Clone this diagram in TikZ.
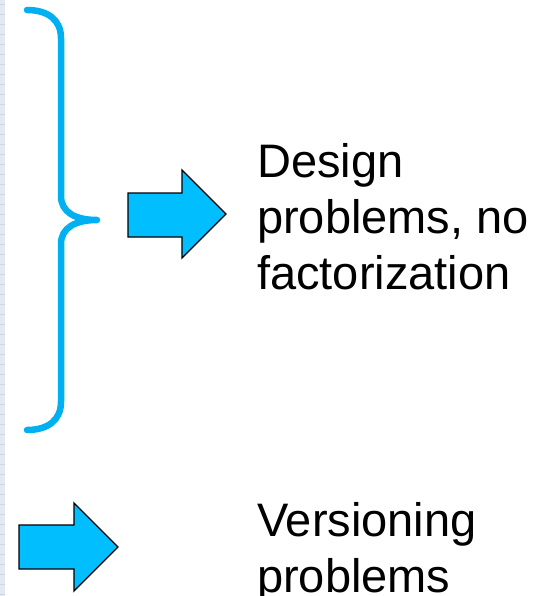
\documentclass[tikz,border=0pt]{standalone}
\usepackage{fontspec}
\setmainfont{Liberation Sans}
\definecolor{bracecol}{RGB}{0,176,240}
\definecolor{arrowcol}{RGB}{0,190,255}
\definecolor{stripcol}{RGB}{226,233,241}
\definecolor{stripline}{RGB}{205,216,228}
\begin{document}
\begin{tikzpicture}[x=1pt,y=-1pt,
  bracestyle/.style={draw=bracecol,line width=6.5pt,line cap=round,line join=round},
  blockarrow/.style={fill=arrowcol,draw=black,line width=1.4pt,line join=miter},
  label/.style={anchor=base west,inner sep=0pt,font=\fontsize{47pt}{56pt}\selectfont}]
  \useasboundingbox (0,0) rectangle (545,596);
  \fill[white] (0,0) rectangle (545,596);
  % faint ruled strip along the left edge
  \fill[stripcol] (0,0) rectangle (5,596);
  \foreach \y in {4,14,...,596} \draw[stripline,line width=0.8pt] (0,\y) -- (5,\y);
  % curly brace
  \draw[bracestyle] (27,10) .. controls (48,10) and (61,20) .. (61,38)
    -- (61,196) .. controls (61,212) and (75,220) .. (97,220)
    .. controls (75,220) and (61,228) .. (61,244)
    -- (61,402) .. controls (61,420) and (48,430) .. (27,430);
  % block arrows
  \draw[blockarrow] (128,193) -- (182,193) -- (182,170) -- (226,214)
    -- (182,258) -- (182,237) -- (128,237) -- cycle;
  \draw[blockarrow] (19,525) -- (74,525) -- (74,503) -- (118,547)
    -- (74,591) -- (74,569) -- (19,569) -- cycle;
  % labels
  \node[label] (d1) at (257,177) {Design};
  \node[label] (d2) at (257,233) {problems, no};
  \node[label] (d3) at (257,289) {factorization};
  \node[label] (v1) at (257,536) {Versioning};
  \node[label] (v2) at (257,592) {problems};
\end{tikzpicture}
\end{document}
